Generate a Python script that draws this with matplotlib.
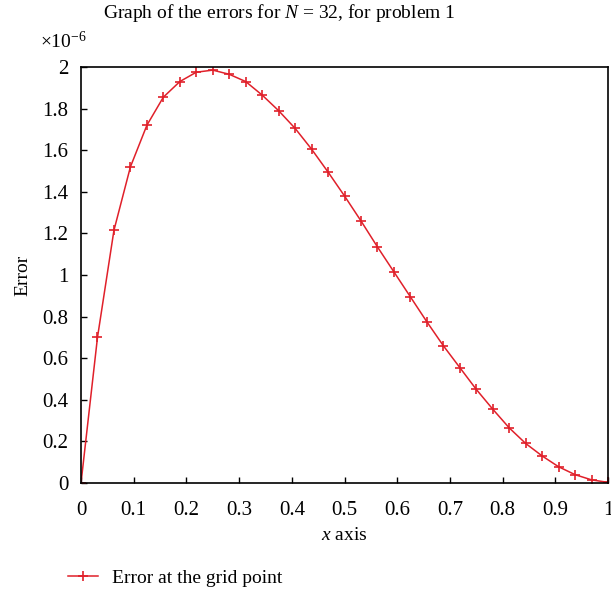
import numpy as np
import matplotlib
matplotlib.use("Agg")
import matplotlib.pyplot as plt

plt.rcParams['font.family'] = ['Liberation Serif', 'DejaVu Serif']
plt.rcParams['mathtext.fontset'] = 'custom'
plt.rcParams['mathtext.it'] = 'Liberation Serif:italic'
plt.rcParams['mathtext.rm'] = 'Liberation Serif'

# grid points, N = 32
N = 32
x = np.arange(N + 1) / N

# error values (x 1e-6)
err = [0.0, 0.70, 1.215, 1.52, 1.72, 1.855, 1.93, 1.975, 1.985, 1.965,
       1.93, 1.865, 1.79, 1.705, 1.605, 1.495, 1.38, 1.26, 1.135, 1.015,
       0.895, 0.775, 0.66, 0.555, 0.45, 0.355, 0.265, 0.19, 0.13, 0.078,
       0.04, 0.015, 0.003]

xticks = [0, 0.1, 0.2, 0.3, 0.4, 0.5, 0.6, 0.7, 0.8, 0.9, 1]
xticklabels = ["0", "0.1", "0.2", "0.3", "0.4", "0.5", "0.6", "0.7", "0.8", "0.9", "1"]
yticks = [0, 0.2, 0.4, 0.6, 0.8, 1, 1.2, 1.4, 1.6, 1.8, 2]
yticklabels = ["0", "0.2", "0.4", "0.6", "0.8", "1", "1.2", "1.4", "1.6", "1.8", "2"]

fig = plt.figure(figsize=(6.11, 5.94), dpi=100)
ax = fig.add_axes([0.1326, 0.1869, 0.8625, 0.7003])

line, = ax.plot(x, err, color="#e0202a", lw=1.1, marker="+", ms=7, mew=1.2)

ax.set_xlim(0, 1)
ax.set_ylim(0, 2)
ax.set_xticks(xticks)
ax.set_xticklabels(xticklabels)
ax.set_yticks(yticks)
ax.set_yticklabels(yticklabels)
ax.tick_params(direction="in", length=4, width=1, labelsize=15)
ax.tick_params(axis="x", pad=13)
ax.tick_params(axis="y", pad=9)
for s in ax.spines.values():
    s.set_linewidth(1.2)

fig.text(0.457, 0.978, "Graph of the errors for $N$ = 32, for problem 1",
         fontsize=14, ha="center", va="center")
ax.text(-0.077, 1.035, r"$\times$10$^{-6}$", transform=ax.transAxes, fontsize=14,
        ha="left", va="bottom")
ax.set_ylabel("Error", fontsize=14, labelpad=8)
ax.set_xlabel("$x$ axis", fontsize=14, labelpad=5)

fig.legend([line], ["Error at the grid point"], loc="center left",
           bbox_to_anchor=(0.111, 0.027), frameon=False, fontsize=14,
           handlelength=1.55, handletextpad=0.7, borderaxespad=0, borderpad=0)

fig.savefig("out.png", dpi=100)
